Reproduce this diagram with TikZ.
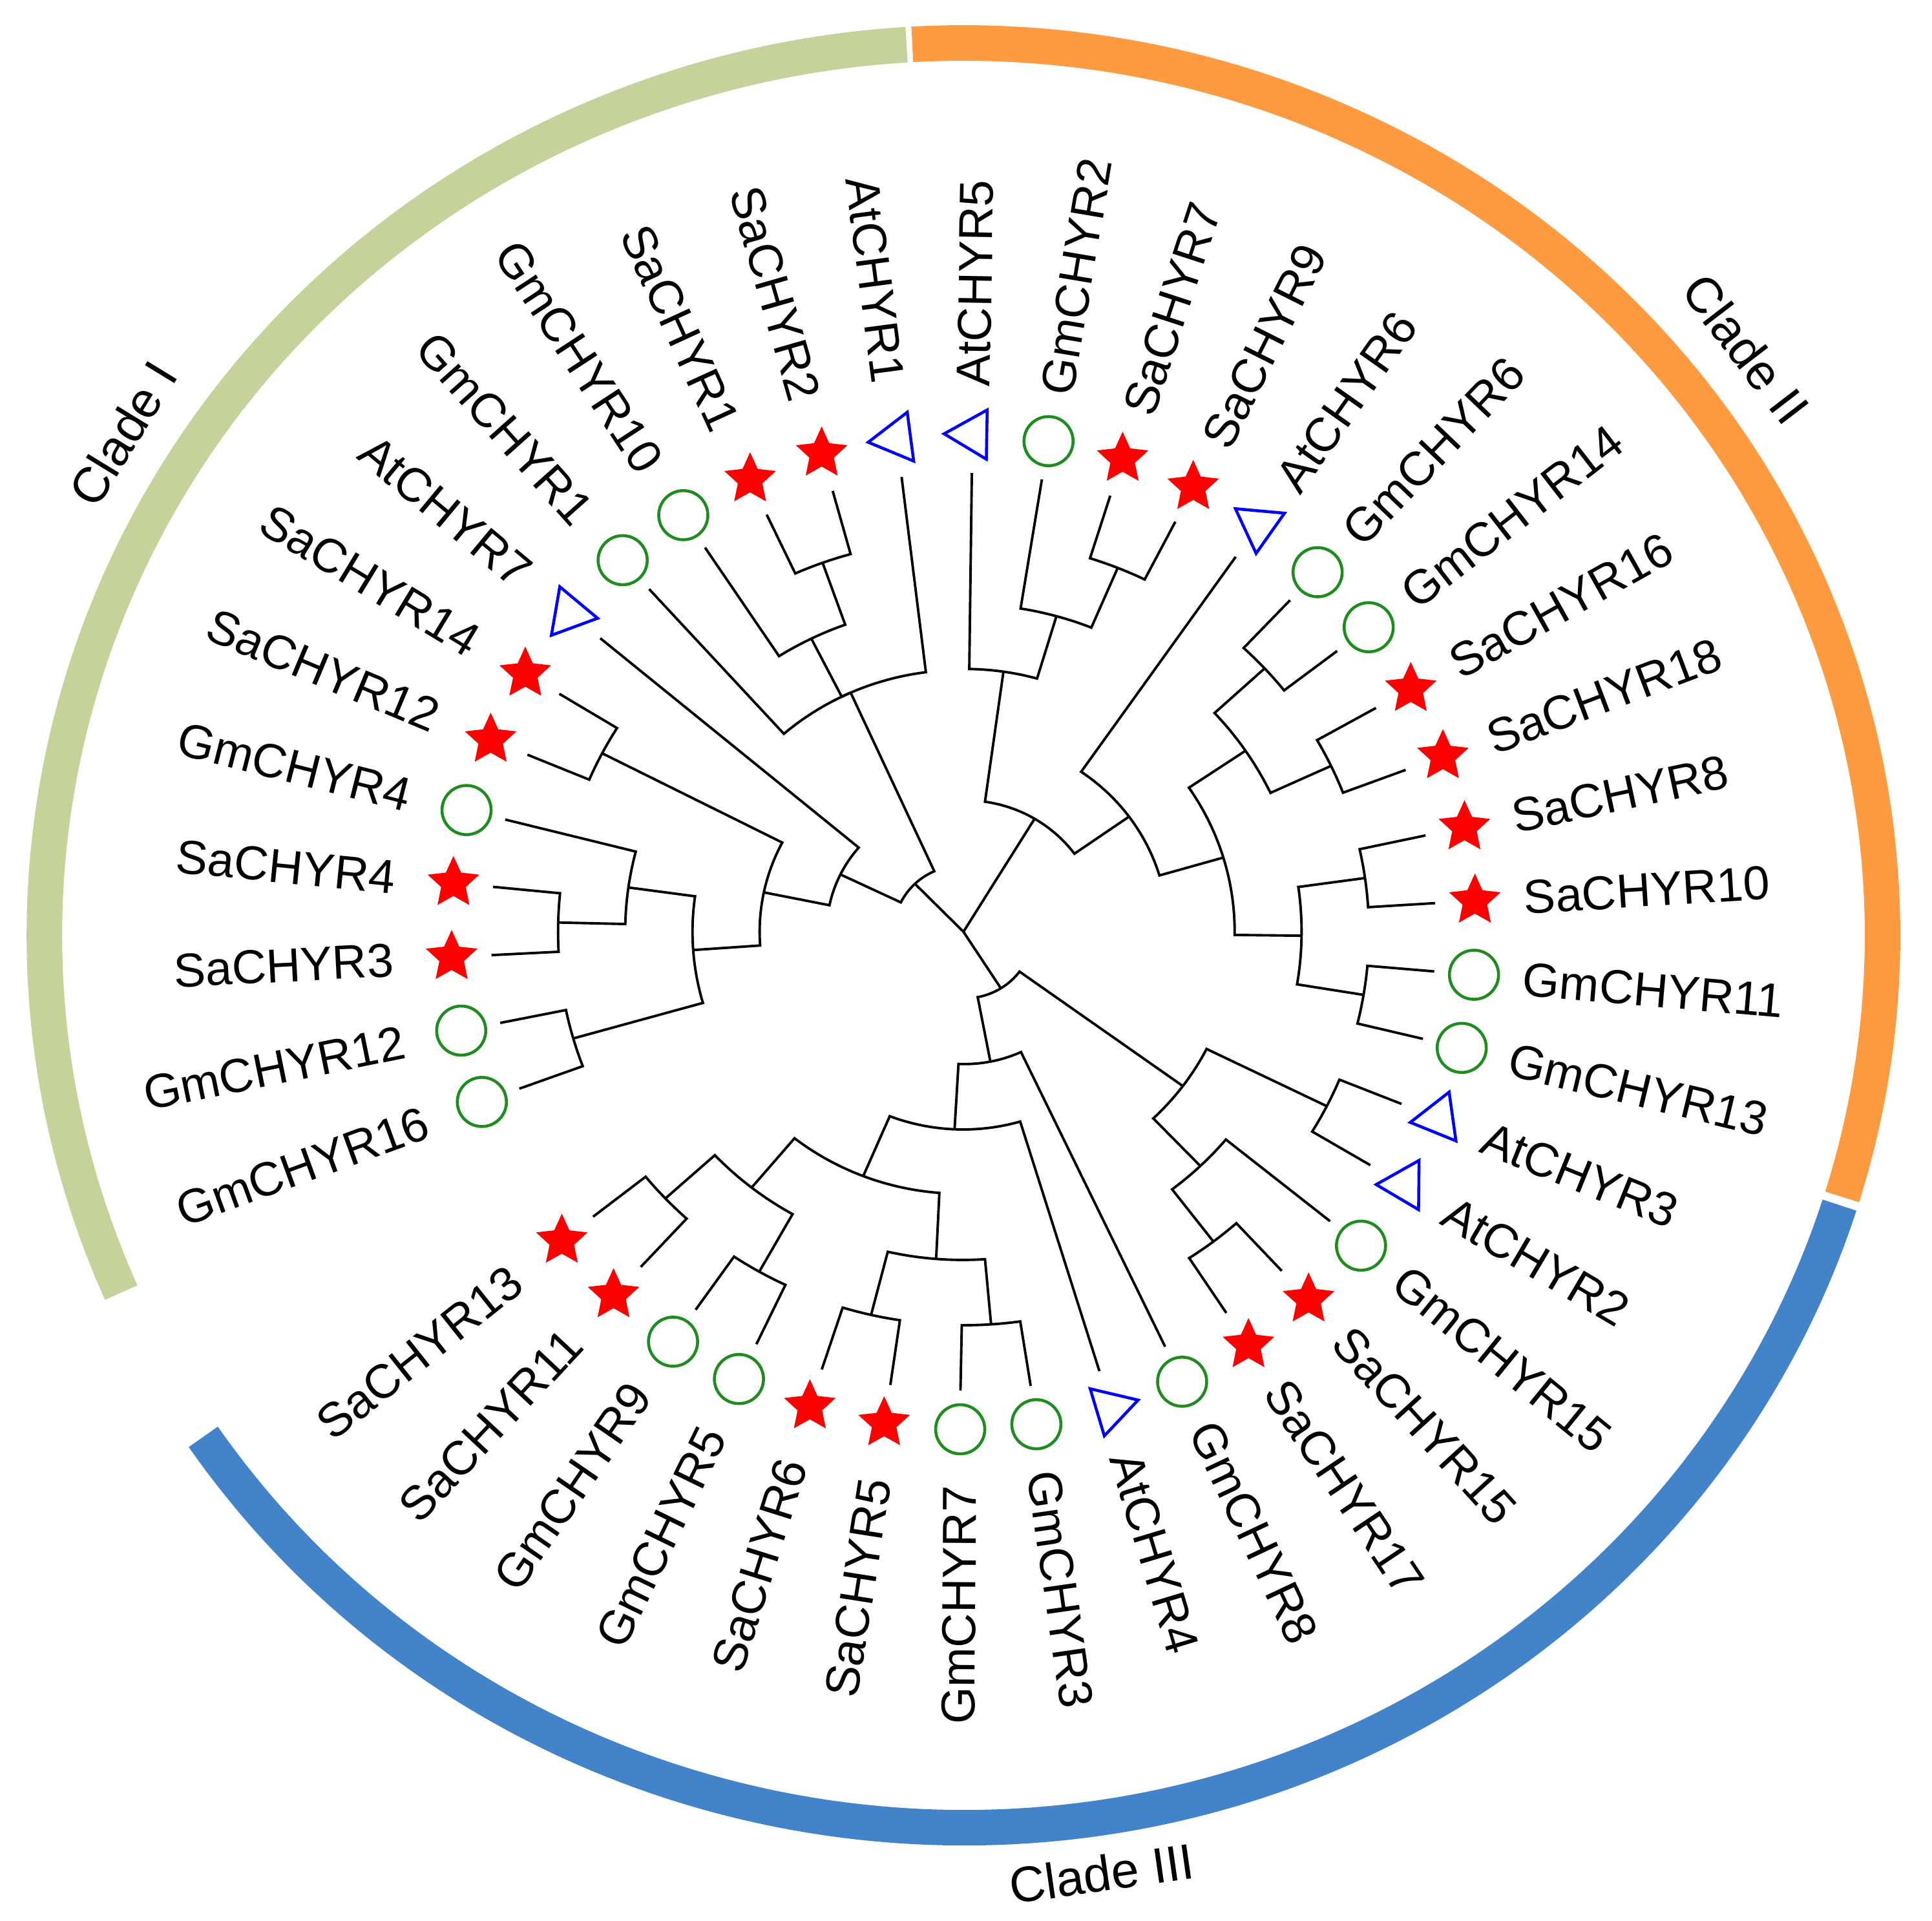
\documentclass[tikz,border=0pt]{standalone}
\usepackage{fontspec}
\setmainfont{Liberation Sans}
\usetikzlibrary{shapes.geometric,calc}

\definecolor{cladeI}{RGB}{197,211,155}
\definecolor{cladeII}{RGB}{254,155,64}
\definecolor{cladeIII}{RGB}{66,131,202}
\definecolor{gmgreen}{RGB}{30,140,30}

\tikzset{
  branch/.style={line width=1.1pt,black},
  gm leaf/.style={circle,draw=gmgreen,line width=1.3pt,minimum size=0.76cm,inner sep=0pt},
  sa leaf/.style={star,star points=5,star point ratio=2.1,fill=red,minimum size=0.84cm,inner sep=0pt},
  at leaf/.style={regular polygon,regular polygon sides=3,draw=blue,line width=1.3pt,minimum size=0.88cm,inner sep=0pt,shape border rotate=\a},
  gene/.style={inner sep=0pt,font=\fontsize{21}{25}\selectfont},
  ring/.style={line width=0.55cm},
  clade/.style={inner sep=0pt,font=\fontsize{22}{26}\selectfont}
}

\newcommand\tn[3]{\coordinate (#1) at ({200-8.54*(#2)}:{7.1-1.01*(#3)});}

\begin{document}
\begin{tikzpicture}[xscale=1.03]
  \useasboundingbox (-14.476,-15.30) rectangle (14.553,14.42);

  \foreach \name/\kind [count=\i from 0] in {GmCHYR16/gm,GmCHYR12/gm,SaCHYR3/sa,SaCHYR4/sa,%
      GmCHYR4/gm,SaCHYR12/sa,SaCHYR14/sa,AtCHYR7/at,GmCHYR1/gm,GmCHYR10/gm,SaCHYR1/sa,%
      SaCHYR2/sa,AtCHYR1/at,AtCHYR5/at,GmCHYR2/gm,SaCHYR7/sa,SaCHYR9/sa,AtCHYR6/at,%
      GmCHYR6/gm,GmCHYR14/gm,SaCHYR16/sa,SaCHYR18/sa,SaCHYR8/sa,SaCHYR10/sa,GmCHYR11/gm,%
      GmCHYR13/gm,AtCHYR3/at,AtCHYR2/at,GmCHYR15/gm,SaCHYR15/sa,SaCHYR17/sa,GmCHYR8/gm,%
      AtCHYR4/at,GmCHYR3/gm,GmCHYR7/gm,SaCHYR5/sa,SaCHYR6/sa,GmCHYR5/gm,GmCHYR9/gm,%
      SaCHYR11/sa,SaCHYR13/sa} {
    \pgfmathsetmacro\a{200-8.54*\i}
    \pgfmathtruncatemacro\rt{abs(\a)<90}
    \coordinate (\name) at (\a:7.1);
    \node [\kind\space leaf] (\name-m) at (\a:7.7) {};
    \ifnum\rt=1
      \node [gene,rotate=\a,anchor=west] (\name-t) at (\a:8.43) {\name};
    \else
      \node [gene,rotate=\a+180,anchor=east] (\name-t) at (\a:8.57) {\name};
    \fi
  }

  \coordinate (root) at (0,0);
  \tn{A1}{2.5}{1}  \tn{A2}{3.25}{2}  \tn{A8}{0.5}{1}  \tn{A3}{1.875}{3}
  \tn{A5}{5.5}{1}  \tn{A4}{3.6875}{4}  \tn{A6}{5.34375}{5}
  \tn{B1}{10.5}{1}  \tn{B2}{9.75}{2}  \tn{B3}{10}{3}  \tn{A7}{7.671875}{6}
  \tn{C1}{15.5}{1}  \tn{C2}{14.75}{2}  \tn{C3}{13.875}{3}
  \tn{C9}{18.5}{1}  \tn{C10}{20.5}{1}  \tn{C7}{19.5}{2}
  \tn{C11}{22.5}{1}  \tn{C12}{24.5}{1}  \tn{C8}{23.5}{2}
  \tn{C6}{21.5}{3}  \tn{C5}{19.25}{4}  \tn{C4}{16.5625}{5}
  \tn{D2}{26.5}{1}  \tn{D4}{29.5}{1}  \tn{D3}{28.75}{2}  \tn{D1}{27.625}{3}
  \tn{D13}{39.5}{1}  \tn{D12}{37.5}{1}  \tn{D11}{38.5}{2}
  \tn{D9}{35.5}{1}  \tn{D10}{33.5}{1}  \tn{D8}{34.5}{2}
  \tn{D7}{36.5}{3}  \tn{D6}{34.25}{4}  \tn{D5}{32.625}{5}  \tn{D0}{30.125}{6}

  \foreach \from/\to in {A8/GmCHYR16,A8/GmCHYR12,A1/SaCHYR3,A1/SaCHYR4,A2/A1,A2/GmCHYR4,%
      A3/A8,A3/A2,A5/SaCHYR12,A5/SaCHYR14,A4/A3,A4/A5,A6/A4,A6/AtCHYR7,%
      B1/SaCHYR1,B1/SaCHYR2,B2/GmCHYR10,B2/B1,B3/GmCHYR1,B3/B2,B3/AtCHYR1,A7/A6,A7/B3,%
      C1/SaCHYR7,C1/SaCHYR9,C2/GmCHYR2,C2/C1,C3/AtCHYR5,C3/C2,C9/GmCHYR6,C9/GmCHYR14,%
      C10/SaCHYR16,C10/SaCHYR18,C7/C9,C7/C10,C11/SaCHYR8,C11/SaCHYR10,C12/GmCHYR11,%
      C12/GmCHYR13,C8/C11,C8/C12,C6/C7,C6/C8,C5/AtCHYR6,C5/C6,C4/C3,C4/C5,%
      D2/AtCHYR3,D2/AtCHYR2,D4/SaCHYR15,D4/SaCHYR17,D3/GmCHYR15,D3/D4,D1/D2,D1/D3,%
      D13/SaCHYR11,D13/SaCHYR13,D12/GmCHYR5,D12/GmCHYR9,D11/D12,D11/D13,D9/SaCHYR5,%
      D9/SaCHYR6,D10/GmCHYR3,D10/GmCHYR7,D8/D10,D8/D9,D7/D8,D7/D11,D6/AtCHYR4,D6/D7,%
      D5/GmCHYR8,D5/D6,D0/D1,D0/D5}
    \draw [branch] let \p1=(\from), \p2=(\to),
        \n1={veclen(\x1/1.03,\y1)}, \n2={atan2(\y1,\x1/1.03)},
        \n3={atan2(\y2,\x2/1.03)}, \n4={\n3+360*round((\n2-\n3)/360)}
      in (\from) arc [start angle=\n2,end angle=\n4,radius=\n1] -- (\to);
  \foreach \to in {A7,C4,D0}
    \draw [branch] (root) -- (\to);

  \begin{scope}[yshift=-0.055cm]
    \draw [ring,cladeI] (93.55:13.81) arc [start angle=93.55,end angle=203.6,radius=13.81];
    \draw [ring,cladeII] (-17.05:13.81) arc [start angle=-17.05,end angle=93.19,radius=13.81];
    \draw [ring,cladeIII] (-145.8:13.81) arc [start angle=-145.8,end angle=-17.6,radius=13.81];
  \end{scope}

  \node [clade,rotate=58.5] (cI) at (148.6:14.8) {Clade I};
  \node [clade,rotate=-52.5] (cII) at (37.5:14.82) {Clade II};
  \node [clade,rotate=8.1] (cIII) at (-81.9:14.72) {Clade III};
\end{tikzpicture}
\end{document}
